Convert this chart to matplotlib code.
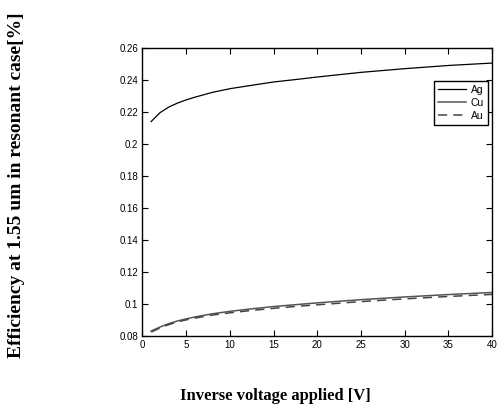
import matplotlib
matplotlib.use('Agg')
import matplotlib.pyplot as plt

# 反向电压 (V)
volt = [1, 2, 3, 4, 5, 6, 8, 10, 12, 15, 18, 20, 25, 30, 35, 40]
# 效率曲线
eff_ag = [0.2140, 0.2195, 0.2230, 0.2255, 0.2275, 0.2292, 0.2322, 0.2345,
          0.2362, 0.2387, 0.2405, 0.2418, 0.2447, 0.2470, 0.2490, 0.2505]
eff_cu = [0.0832, 0.0857, 0.0878, 0.0895, 0.0908, 0.0920, 0.0940, 0.0955,
          0.0968, 0.0985, 0.0999, 0.1008, 0.1028, 0.1045, 0.1060, 0.1073]
eff_au = [0.0826, 0.0851, 0.0872, 0.0889, 0.0902, 0.0913, 0.0932, 0.0946,
          0.0958, 0.0974, 0.0988, 0.0996, 0.1016, 0.1033, 0.1048, 0.1061]

xticks = [0, 5, 10, 15, 20, 25, 30, 35, 40]
yticks = [0.08, 0.1, 0.12, 0.14, 0.16, 0.18, 0.2, 0.22, 0.24, 0.26]
ytick_labels = ['0.08', '0.1', '0.12', '0.14', '0.16', '0.18', '0.2', '0.22', '0.24', '0.26']

fig = plt.figure(figsize=(4.98, 4.09), dpi=100)
ax = fig.add_axes([0.286, 0.178, 0.702, 0.705])

ax.plot(volt, eff_ag, color='black', lw=0.9, label='Ag')
ax.plot(volt, eff_cu, color='#555555', lw=1.1, label='Cu')
ax.plot(volt, eff_au, color='#444444', lw=1.1, ls=(0, (6, 4)), label='Au')

ax.set_xlim(0, 40)
ax.set_ylim(0.08, 0.26)
ax.set_xticks(xticks)
ax.set_yticks(yticks)
ax.set_yticklabels(ytick_labels)
ax.tick_params(direction='in', top=True, right=True, length=4, width=0.8,
               labelsize=7, pad=3)
for lab in ax.get_xticklabels() + ax.get_yticklabels():
    lab.set_fontfamily('Liberation Sans')
for s in ax.spines.values():
    s.set_linewidth(1.0)

# 坐标轴标题 (位置按原图摆放)
fig.text(0.552, 0.032, 'Inverse voltage applied [V]', ha='center', va='center',
         fontsize=12, fontweight='bold', fontfamily='Liberation Serif')
fig.text(0.034, 0.548, 'Efficiency at 1.55 um in resonant case[%]', rotation=90,
         ha='center', va='center', fontsize=14, fontweight='bold',
         fontfamily='Liberation Serif')

leg = ax.legend(loc='upper right', bbox_to_anchor=(0.989, 0.886), fancybox=False,
                edgecolor='black', framealpha=1, borderaxespad=0,
                prop={'family': 'Liberation Sans', 'size': 7.5},
                handlelength=2.6, labelspacing=0.3, borderpad=0.4,
                handletextpad=0.5)
leg.get_frame().set_linewidth(1.0)

fig.savefig('out.png', dpi=100)
